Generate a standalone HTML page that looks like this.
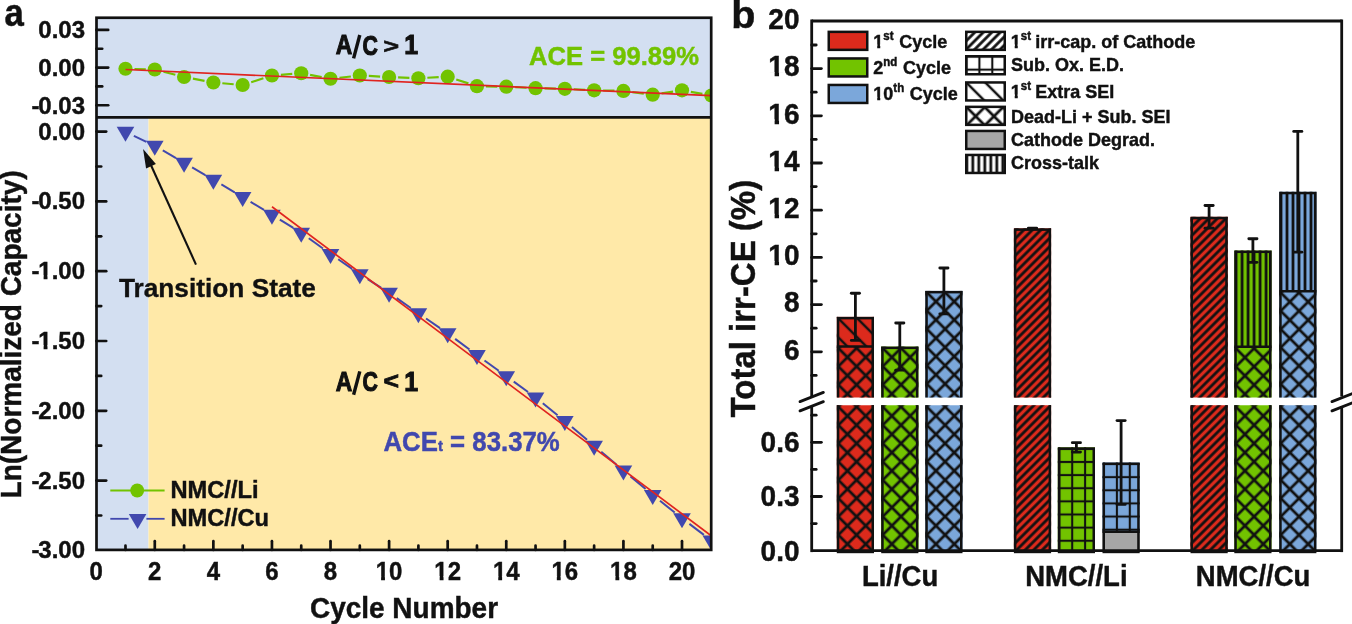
<!DOCTYPE html>
<html><head><meta charset="utf-8"><style>
html,body{margin:0;padding:0;background:#fff;}
svg{display:block;will-change:transform;}
text{font-family:"Liberation Sans",sans-serif;font-weight:bold;}
</style></head><body>
<svg width="1352" height="624" viewBox="0 0 1352 624">
<rect width="1352" height="624" fill="#fff"/><g fill="#111">
<defs><pattern id="pt1" patternUnits="userSpaceOnUse" width="12.940" height="12.940" patternTransform="translate(838.30,348.11) rotate(45)"><rect x="-1" y="-1.40" width="14.940" height="2.8" fill="#111"/><rect x="-1" y="11.540" width="14.940" height="2.8" fill="#111"/><rect y="-1" x="-1.40" height="14.940" width="2.8" fill="#111"/><rect y="-1" x="11.540" height="14.940" width="2.8" fill="#111"/></pattern><pattern id="pt2" patternUnits="userSpaceOnUse" width="13.435" height="13.435" patternTransform="translate(838.30,318.37) rotate(45)"><rect x="-1" y="-1.25" width="15.435" height="2.5" fill="#111"/><rect x="-1" y="12.185" width="15.435" height="2.5" fill="#111"/></pattern><pattern id="pt3" patternUnits="userSpaceOnUse" width="12.940" height="12.940" patternTransform="translate(838.30,406.80) rotate(45)"><rect x="-1" y="-1.40" width="14.940" height="2.8" fill="#111"/><rect x="-1" y="11.540" width="14.940" height="2.8" fill="#111"/><rect y="-1" x="-1.40" height="14.940" width="2.8" fill="#111"/><rect y="-1" x="11.540" height="14.940" width="2.8" fill="#111"/></pattern><pattern id="pt4" patternUnits="userSpaceOnUse" width="12.940" height="12.940" patternTransform="translate(882.70,348.11) rotate(45)"><rect x="-1" y="-1.40" width="14.940" height="2.8" fill="#111"/><rect x="-1" y="11.540" width="14.940" height="2.8" fill="#111"/><rect y="-1" x="-1.40" height="14.940" width="2.8" fill="#111"/><rect y="-1" x="11.540" height="14.940" width="2.8" fill="#111"/></pattern><pattern id="pt5" patternUnits="userSpaceOnUse" width="12.940" height="12.940" patternTransform="translate(882.70,406.80) rotate(45)"><rect x="-1" y="-1.40" width="14.940" height="2.8" fill="#111"/><rect x="-1" y="11.540" width="14.940" height="2.8" fill="#111"/><rect y="-1" x="-1.40" height="14.940" width="2.8" fill="#111"/><rect y="-1" x="11.540" height="14.940" width="2.8" fill="#111"/></pattern><pattern id="pt6" patternUnits="userSpaceOnUse" width="12.940" height="12.940" patternTransform="translate(926.80,292.41) rotate(45)"><rect x="-1" y="-1.40" width="14.940" height="2.8" fill="#111"/><rect x="-1" y="11.540" width="14.940" height="2.8" fill="#111"/><rect y="-1" x="-1.40" height="14.940" width="2.8" fill="#111"/><rect y="-1" x="11.540" height="14.940" width="2.8" fill="#111"/></pattern><pattern id="pt7" patternUnits="userSpaceOnUse" width="12.940" height="12.940" patternTransform="translate(926.80,406.80) rotate(45)"><rect x="-1" y="-1.40" width="14.940" height="2.8" fill="#111"/><rect x="-1" y="11.540" width="14.940" height="2.8" fill="#111"/><rect y="-1" x="-1.40" height="14.940" width="2.8" fill="#111"/><rect y="-1" x="11.540" height="14.940" width="2.8" fill="#111"/></pattern><pattern id="pt8" patternUnits="userSpaceOnUse" width="6.010" height="6.010" patternTransform="translate(1015.40,229.87) rotate(-45)"><rect x="-1" y="-1.40" width="8.010" height="2.8" fill="#111"/><rect x="-1" y="4.610" width="8.010" height="2.8" fill="#111"/></pattern><pattern id="pt9" patternUnits="userSpaceOnUse" width="6.010" height="6.010" patternTransform="translate(1015.40,406.80) rotate(-45)"><rect x="-1" y="-1.40" width="8.010" height="2.8" fill="#111"/><rect x="-1" y="4.610" width="8.010" height="2.8" fill="#111"/></pattern><pattern id="pt10" patternUnits="userSpaceOnUse" width="12.9" height="13.13" patternTransform="translate(1059.30,448.84)"><rect x="-1" y="-1.05" width="14.9" height="2.1" fill="#111"/><rect x="-1" y="12.080" width="14.9" height="2.1" fill="#111"/><rect y="-1" x="-1.05" height="15.13" width="2.1" fill="#111"/><rect y="-1" x="11.850" height="15.13" width="2.1" fill="#111"/></pattern><pattern id="pt11" patternUnits="userSpaceOnUse" width="12.9" height="13.13" patternTransform="translate(1104.00,464.02)"><rect x="-1" y="-1.05" width="14.9" height="2.1" fill="#111"/><rect x="-1" y="12.080" width="14.9" height="2.1" fill="#111"/><rect y="-1" x="-1.05" height="15.13" width="2.1" fill="#111"/><rect y="-1" x="11.850" height="15.13" width="2.1" fill="#111"/></pattern><pattern id="pt12" patternUnits="userSpaceOnUse" width="6.010" height="6.010" patternTransform="translate(1192.00,218.31) rotate(-45)"><rect x="-1" y="-1.40" width="8.010" height="2.8" fill="#111"/><rect x="-1" y="4.610" width="8.010" height="2.8" fill="#111"/></pattern><pattern id="pt13" patternUnits="userSpaceOnUse" width="6.010" height="6.010" patternTransform="translate(1192.00,406.80) rotate(-45)"><rect x="-1" y="-1.40" width="8.010" height="2.8" fill="#111"/><rect x="-1" y="4.610" width="8.010" height="2.8" fill="#111"/></pattern><pattern id="pt14" patternUnits="userSpaceOnUse" width="12.940" height="12.940" patternTransform="translate(1235.80,348.34) rotate(45)"><rect x="-1" y="-1.40" width="14.940" height="2.8" fill="#111"/><rect x="-1" y="11.540" width="14.940" height="2.8" fill="#111"/><rect y="-1" x="-1.40" height="14.940" width="2.8" fill="#111"/><rect y="-1" x="11.540" height="14.940" width="2.8" fill="#111"/></pattern><pattern id="pt15" patternUnits="userSpaceOnUse" width="6.0" height="20" patternTransform="translate(1236.10,252.06)"><rect x="-1.40" y="-1" width="2.8" height="22" fill="#111"/><rect x="4.60" y="-1" width="2.8" height="22" fill="#111"/></pattern><pattern id="pt16" patternUnits="userSpaceOnUse" width="12.940" height="12.940" patternTransform="translate(1235.80,406.80) rotate(45)"><rect x="-1" y="-1.40" width="14.940" height="2.8" fill="#111"/><rect x="-1" y="11.540" width="14.940" height="2.8" fill="#111"/><rect y="-1" x="-1.40" height="14.940" width="2.8" fill="#111"/><rect y="-1" x="11.540" height="14.940" width="2.8" fill="#111"/></pattern><pattern id="pt17" patternUnits="userSpaceOnUse" width="12.940" height="12.940" patternTransform="translate(1280.70,292.65) rotate(45)"><rect x="-1" y="-1.40" width="14.940" height="2.8" fill="#111"/><rect x="-1" y="11.540" width="14.940" height="2.8" fill="#111"/><rect y="-1" x="-1.40" height="14.940" width="2.8" fill="#111"/><rect y="-1" x="11.540" height="14.940" width="2.8" fill="#111"/></pattern><pattern id="pt18" patternUnits="userSpaceOnUse" width="6.0" height="20" patternTransform="translate(1281.00,193.29)"><rect x="-1.40" y="-1" width="2.8" height="22" fill="#111"/><rect x="4.60" y="-1" width="2.8" height="22" fill="#111"/></pattern><pattern id="pt19" patternUnits="userSpaceOnUse" width="12.940" height="12.940" patternTransform="translate(1280.70,406.80) rotate(45)"><rect x="-1" y="-1.40" width="14.940" height="2.8" fill="#111"/><rect x="-1" y="11.540" width="14.940" height="2.8" fill="#111"/><rect y="-1" x="-1.40" height="14.940" width="2.8" fill="#111"/><rect y="-1" x="11.540" height="14.940" width="2.8" fill="#111"/></pattern><pattern id="pt20" patternUnits="userSpaceOnUse" width="6.010" height="6.010" patternTransform="translate(966.50,32.10) rotate(-45)"><rect x="-1" y="-1.40" width="8.010" height="2.8" fill="#111"/><rect x="-1" y="4.610" width="8.010" height="2.8" fill="#111"/></pattern><pattern id="pt21" patternUnits="userSpaceOnUse" width="12.9" height="13.13" patternTransform="translate(966.50,56.50)"><rect x="-1" y="-1.05" width="14.9" height="2.1" fill="#111"/><rect x="-1" y="12.080" width="14.9" height="2.1" fill="#111"/><rect y="-1" x="-1.05" height="15.13" width="2.1" fill="#111"/><rect y="-1" x="11.850" height="15.13" width="2.1" fill="#111"/></pattern><pattern id="pt22" patternUnits="userSpaceOnUse" width="13.435" height="13.435" patternTransform="translate(966.50,82.70) rotate(45)"><rect x="-1" y="-1.25" width="15.435" height="2.5" fill="#111"/><rect x="-1" y="12.185" width="15.435" height="2.5" fill="#111"/></pattern><pattern id="pt23" patternUnits="userSpaceOnUse" width="12.940" height="12.940" patternTransform="translate(966.50,107.10) rotate(45)"><rect x="-1" y="-1.40" width="14.940" height="2.8" fill="#111"/><rect x="-1" y="11.540" width="14.940" height="2.8" fill="#111"/><rect y="-1" x="-1.40" height="14.940" width="2.8" fill="#111"/><rect y="-1" x="11.540" height="14.940" width="2.8" fill="#111"/></pattern><pattern id="pt24" patternUnits="userSpaceOnUse" width="6.0" height="20" patternTransform="translate(966.80,155.20)"><rect x="-1.40" y="-1" width="2.8" height="22" fill="#111"/><rect x="4.60" y="-1" width="2.8" height="22" fill="#111"/></pattern></defs>
<rect x="96.5" y="17.75" width="614.7" height="99.65" fill="#D3DFF1"/>
<rect x="96.5" y="117.4" width="52.0" height="432.5" fill="#D3DFF1"/>
<rect x="148.5" y="117.4" width="562.7" height="432.5" fill="#FFE9A8"/>
<defs><clipPath id="cpa"><rect x="96.5" y="17.75" width="614.7" height="532.15"/></clipPath></defs>
<g clip-path="url(#cpa)">
<line x1="134.49" y1="68.98" x2="145.78" y2="69.27" stroke="#72C300" stroke-width="2.2"/>
<line x1="163.50" y1="71.73" x2="175.35" y2="74.77" stroke="#72C300" stroke-width="2.2"/>
<line x1="192.92" y1="78.66" x2="204.51" y2="80.84" stroke="#72C300" stroke-width="2.2"/>
<line x1="222.33" y1="83.27" x2="233.68" y2="84.23" stroke="#72C300" stroke-width="2.2"/>
<line x1="251.21" y1="82.22" x2="263.38" y2="78.28" stroke="#72C300" stroke-width="2.2"/>
<line x1="280.91" y1="74.81" x2="292.26" y2="73.94" stroke="#72C300" stroke-width="2.2"/>
<line x1="310.08" y1="74.91" x2="321.67" y2="77.09" stroke="#72C300" stroke-width="2.2"/>
<line x1="339.47" y1="77.76" x2="350.86" y2="76.49" stroke="#72C300" stroke-width="2.2"/>
<line x1="368.80" y1="75.96" x2="380.11" y2="76.54" stroke="#72C300" stroke-width="2.2"/>
<line x1="398.09" y1="77.38" x2="409.40" y2="77.87" stroke="#72C300" stroke-width="2.2"/>
<line x1="427.38" y1="77.77" x2="438.69" y2="77.18" stroke="#72C300" stroke-width="2.2"/>
<line x1="456.24" y1="79.48" x2="468.41" y2="83.42" stroke="#72C300" stroke-width="2.2"/>
<line x1="485.97" y1="86.35" x2="497.26" y2="86.55" stroke="#72C300" stroke-width="2.2"/>
<line x1="515.25" y1="87.16" x2="526.56" y2="87.74" stroke="#72C300" stroke-width="2.2"/>
<line x1="544.55" y1="88.38" x2="555.84" y2="88.62" stroke="#72C300" stroke-width="2.2"/>
<line x1="573.83" y1="89.26" x2="585.14" y2="89.84" stroke="#72C300" stroke-width="2.2"/>
<line x1="603.13" y1="90.48" x2="614.42" y2="90.72" stroke="#72C300" stroke-width="2.2"/>
<line x1="632.35" y1="92.06" x2="643.78" y2="93.54" stroke="#72C300" stroke-width="2.2"/>
<line x1="661.61" y1="93.36" x2="673.10" y2="91.64" stroke="#72C300" stroke-width="2.2"/>
<line x1="690.86" y1="91.87" x2="702.43" y2="93.93" stroke="#72C300" stroke-width="2.2"/>
<circle cx="125.49" cy="68.75" r="7.1" fill="#72C300"/>
<circle cx="154.78" cy="69.50" r="7.1" fill="#72C300"/>
<circle cx="184.07" cy="77.00" r="7.1" fill="#72C300"/>
<circle cx="213.36" cy="82.50" r="7.1" fill="#72C300"/>
<circle cx="242.65" cy="85.00" r="7.1" fill="#72C300"/>
<circle cx="271.94" cy="75.50" r="7.1" fill="#72C300"/>
<circle cx="301.23" cy="73.25" r="7.1" fill="#72C300"/>
<circle cx="330.52" cy="78.75" r="7.1" fill="#72C300"/>
<circle cx="359.81" cy="75.50" r="7.1" fill="#72C300"/>
<circle cx="389.10" cy="77.00" r="7.1" fill="#72C300"/>
<circle cx="418.39" cy="78.25" r="7.1" fill="#72C300"/>
<circle cx="447.68" cy="76.70" r="7.1" fill="#72C300"/>
<circle cx="476.97" cy="86.20" r="7.1" fill="#72C300"/>
<circle cx="506.26" cy="86.70" r="7.1" fill="#72C300"/>
<circle cx="535.55" cy="88.20" r="7.1" fill="#72C300"/>
<circle cx="564.84" cy="88.80" r="7.1" fill="#72C300"/>
<circle cx="594.13" cy="90.30" r="7.1" fill="#72C300"/>
<circle cx="623.42" cy="90.90" r="7.1" fill="#72C300"/>
<circle cx="652.71" cy="94.70" r="7.1" fill="#72C300"/>
<circle cx="682.00" cy="90.30" r="7.1" fill="#72C300"/>
<circle cx="711.29" cy="95.50" r="7.1" fill="#72C300"/>
<line x1="125.5" y1="69.5" x2="711.2" y2="95.6" stroke="#E02420" stroke-width="1.7"/>
<line x1="133.88" y1="135.81" x2="146.39" y2="141.79" stroke="#4148AE" stroke-width="2"/>
<line x1="162.82" y1="150.47" x2="176.03" y2="158.13" stroke="#4148AE" stroke-width="2"/>
<line x1="192.12" y1="167.46" x2="205.31" y2="175.09" stroke="#4148AE" stroke-width="2"/>
<line x1="221.37" y1="184.47" x2="234.64" y2="192.28" stroke="#4148AE" stroke-width="2"/>
<line x1="250.60" y1="201.82" x2="263.99" y2="209.93" stroke="#4148AE" stroke-width="2"/>
<line x1="279.86" y1="219.62" x2="293.31" y2="227.88" stroke="#4148AE" stroke-width="2"/>
<line x1="308.76" y1="238.21" x2="322.99" y2="248.54" stroke="#4148AE" stroke-width="2"/>
<line x1="338.18" y1="259.28" x2="352.15" y2="268.92" stroke="#4148AE" stroke-width="2"/>
<line x1="367.66" y1="279.19" x2="381.25" y2="287.81" stroke="#4148AE" stroke-width="2"/>
<line x1="396.72" y1="298.13" x2="410.77" y2="307.97" stroke="#4148AE" stroke-width="2"/>
<line x1="426.07" y1="318.54" x2="440.00" y2="328.06" stroke="#4148AE" stroke-width="2"/>
<line x1="455.15" y1="338.84" x2="469.50" y2="349.46" stroke="#4148AE" stroke-width="2"/>
<line x1="484.50" y1="360.45" x2="498.73" y2="370.75" stroke="#4148AE" stroke-width="2"/>
<line x1="513.78" y1="381.67" x2="528.03" y2="392.03" stroke="#4148AE" stroke-width="2"/>
<line x1="542.80" y1="403.32" x2="557.59" y2="415.18" stroke="#4148AE" stroke-width="2"/>
<line x1="571.95" y1="427.00" x2="587.02" y2="439.70" stroke="#4148AE" stroke-width="2"/>
<line x1="601.24" y1="451.70" x2="616.31" y2="464.40" stroke="#4148AE" stroke-width="2"/>
<line x1="630.54" y1="476.38" x2="645.59" y2="489.02" stroke="#4148AE" stroke-width="2"/>
<line x1="659.99" y1="500.79" x2="674.72" y2="512.51" stroke="#4148AE" stroke-width="2"/>
<line x1="689.41" y1="523.92" x2="703.88" y2="534.88" stroke="#4148AE" stroke-width="2"/>
<path d="M116.69,126.80L134.29,126.80L125.49,141.80Z" fill="#4148AE"/>
<path d="M145.98,140.80L163.58,140.80L154.78,155.80Z" fill="#4148AE"/>
<path d="M175.27,157.80L192.87,157.80L184.07,172.80Z" fill="#4148AE"/>
<path d="M204.56,174.75L222.16,174.75L213.36,189.75Z" fill="#4148AE"/>
<path d="M233.85,192.00L251.45,192.00L242.65,207.00Z" fill="#4148AE"/>
<path d="M263.14,209.75L280.74,209.75L271.94,224.75Z" fill="#4148AE"/>
<path d="M292.43,227.75L310.03,227.75L301.23,242.75Z" fill="#4148AE"/>
<path d="M321.72,249.00L339.32,249.00L330.52,264.00Z" fill="#4148AE"/>
<path d="M351.01,269.20L368.61,269.20L359.81,284.20Z" fill="#4148AE"/>
<path d="M380.30,287.80L397.90,287.80L389.10,302.80Z" fill="#4148AE"/>
<path d="M409.59,308.30L427.19,308.30L418.39,323.30Z" fill="#4148AE"/>
<path d="M438.88,328.30L456.48,328.30L447.68,343.30Z" fill="#4148AE"/>
<path d="M468.17,350.00L485.77,350.00L476.97,365.00Z" fill="#4148AE"/>
<path d="M497.46,371.20L515.06,371.20L506.26,386.20Z" fill="#4148AE"/>
<path d="M526.75,392.50L544.35,392.50L535.55,407.50Z" fill="#4148AE"/>
<path d="M556.04,416.00L573.64,416.00L564.84,431.00Z" fill="#4148AE"/>
<path d="M585.33,440.70L602.93,440.70L594.13,455.70Z" fill="#4148AE"/>
<path d="M614.62,465.40L632.22,465.40L623.42,480.40Z" fill="#4148AE"/>
<path d="M643.91,490.00L661.51,490.00L652.71,505.00Z" fill="#4148AE"/>
<path d="M673.20,513.30L690.80,513.30L682.00,528.30Z" fill="#4148AE"/>
<path d="M702.49,535.50L720.09,535.50L711.29,550.50Z" fill="#4148AE"/>
<line x1="272" y1="206.75" x2="711.2" y2="535.7" stroke="#E02420" stroke-width="1.7"/>
</g>
<rect x="96.5" y="17.75" width="614.7" height="532.15" fill="none" stroke="#111" stroke-width="2.7"/>
<line x1="96.5" y1="117.4" x2="711.2" y2="117.4" stroke="#111" stroke-width="2.7"/>
<line x1="96.5" y1="29.95" x2="108.2" y2="29.95" stroke="#111" stroke-width="2.7" stroke-linecap="round"/>
<line x1="96.5" y1="48.77" x2="102.2" y2="48.77" stroke="#111" stroke-width="2.7" stroke-linecap="round"/>
<line x1="96.5" y1="67.60" x2="108.2" y2="67.60" stroke="#111" stroke-width="2.7" stroke-linecap="round"/>
<line x1="96.5" y1="86.42" x2="102.2" y2="86.42" stroke="#111" stroke-width="2.7" stroke-linecap="round"/>
<line x1="96.5" y1="105.25" x2="108.2" y2="105.25" stroke="#111" stroke-width="2.7" stroke-linecap="round"/>
<line x1="96.5" y1="131.60" x2="106.2" y2="131.60" stroke="#111" stroke-width="2.7" stroke-linecap="round"/>
<line x1="96.5" y1="166.50" x2="101.2" y2="166.50" stroke="#111" stroke-width="2.7" stroke-linecap="round"/>
<line x1="96.5" y1="201.40" x2="106.2" y2="201.40" stroke="#111" stroke-width="2.7" stroke-linecap="round"/>
<line x1="96.5" y1="236.30" x2="101.2" y2="236.30" stroke="#111" stroke-width="2.7" stroke-linecap="round"/>
<line x1="96.5" y1="271.20" x2="106.2" y2="271.20" stroke="#111" stroke-width="2.7" stroke-linecap="round"/>
<line x1="96.5" y1="306.10" x2="101.2" y2="306.10" stroke="#111" stroke-width="2.7" stroke-linecap="round"/>
<line x1="96.5" y1="341.00" x2="106.2" y2="341.00" stroke="#111" stroke-width="2.7" stroke-linecap="round"/>
<line x1="96.5" y1="375.90" x2="101.2" y2="375.90" stroke="#111" stroke-width="2.7" stroke-linecap="round"/>
<line x1="96.5" y1="410.80" x2="106.2" y2="410.80" stroke="#111" stroke-width="2.7" stroke-linecap="round"/>
<line x1="96.5" y1="445.70" x2="101.2" y2="445.70" stroke="#111" stroke-width="2.7" stroke-linecap="round"/>
<line x1="96.5" y1="480.60" x2="106.2" y2="480.60" stroke="#111" stroke-width="2.7" stroke-linecap="round"/>
<line x1="96.5" y1="515.50" x2="101.2" y2="515.50" stroke="#111" stroke-width="2.7" stroke-linecap="round"/>
<line x1="125.49" y1="549.9" x2="125.49" y2="545.6999999999999" stroke="#111" stroke-width="2.7" stroke-linecap="round"/>
<line x1="154.78" y1="549.9" x2="154.78" y2="541.1999999999999" stroke="#111" stroke-width="2.7" stroke-linecap="round"/>
<line x1="184.07" y1="549.9" x2="184.07" y2="545.6999999999999" stroke="#111" stroke-width="2.7" stroke-linecap="round"/>
<line x1="213.36" y1="549.9" x2="213.36" y2="541.1999999999999" stroke="#111" stroke-width="2.7" stroke-linecap="round"/>
<line x1="242.65" y1="549.9" x2="242.65" y2="545.6999999999999" stroke="#111" stroke-width="2.7" stroke-linecap="round"/>
<line x1="271.94" y1="549.9" x2="271.94" y2="541.1999999999999" stroke="#111" stroke-width="2.7" stroke-linecap="round"/>
<line x1="301.23" y1="549.9" x2="301.23" y2="545.6999999999999" stroke="#111" stroke-width="2.7" stroke-linecap="round"/>
<line x1="330.52" y1="549.9" x2="330.52" y2="541.1999999999999" stroke="#111" stroke-width="2.7" stroke-linecap="round"/>
<line x1="359.81" y1="549.9" x2="359.81" y2="545.6999999999999" stroke="#111" stroke-width="2.7" stroke-linecap="round"/>
<line x1="389.10" y1="549.9" x2="389.10" y2="541.1999999999999" stroke="#111" stroke-width="2.7" stroke-linecap="round"/>
<line x1="418.39" y1="549.9" x2="418.39" y2="545.6999999999999" stroke="#111" stroke-width="2.7" stroke-linecap="round"/>
<line x1="447.68" y1="549.9" x2="447.68" y2="541.1999999999999" stroke="#111" stroke-width="2.7" stroke-linecap="round"/>
<line x1="476.97" y1="549.9" x2="476.97" y2="545.6999999999999" stroke="#111" stroke-width="2.7" stroke-linecap="round"/>
<line x1="506.26" y1="549.9" x2="506.26" y2="541.1999999999999" stroke="#111" stroke-width="2.7" stroke-linecap="round"/>
<line x1="535.55" y1="549.9" x2="535.55" y2="545.6999999999999" stroke="#111" stroke-width="2.7" stroke-linecap="round"/>
<line x1="564.84" y1="549.9" x2="564.84" y2="541.1999999999999" stroke="#111" stroke-width="2.7" stroke-linecap="round"/>
<line x1="594.13" y1="549.9" x2="594.13" y2="545.6999999999999" stroke="#111" stroke-width="2.7" stroke-linecap="round"/>
<line x1="623.42" y1="549.9" x2="623.42" y2="541.1999999999999" stroke="#111" stroke-width="2.7" stroke-linecap="round"/>
<line x1="652.71" y1="549.9" x2="652.71" y2="545.6999999999999" stroke="#111" stroke-width="2.7" stroke-linecap="round"/>
<line x1="682.00" y1="549.9" x2="682.00" y2="541.1999999999999" stroke="#111" stroke-width="2.7" stroke-linecap="round"/>
<text transform="translate(85.00,38.35) scale(0.9901,1)" font-family="Liberation Sans, sans-serif" font-weight="bold" font-size="24.24" text-anchor="end" stroke="#111" stroke-width="0.45">0.03</text>
<text transform="translate(85.00,76.00) scale(0.9901,1)" font-family="Liberation Sans, sans-serif" font-weight="bold" font-size="24.24" text-anchor="end" stroke="#111" stroke-width="0.45">0.00</text>
<text class="fx1" transform="translate(85.00,113.65) scale(0.9901,1)" font-family="Liberation Sans, sans-serif" font-weight="bold" font-size="24.24" text-anchor="end" stroke="#111" stroke-width="0.45">-<tspan dx="-1.3">0.03</tspan></text>
<text transform="translate(85.00,139.50) scale(0.9901,1)" font-family="Liberation Sans, sans-serif" font-weight="bold" font-size="24.24" text-anchor="end" stroke="#111" stroke-width="0.45">0.00</text>
<text class="fx1" transform="translate(85.00,209.30) scale(0.9901,1)" font-family="Liberation Sans, sans-serif" font-weight="bold" font-size="24.24" text-anchor="end" stroke="#111" stroke-width="0.45">-<tspan dx="-1.3">0.50</tspan></text>
<text class="fx1" transform="translate(85.00,279.10) scale(0.9901,1)" font-family="Liberation Sans, sans-serif" font-weight="bold" font-size="24.24" text-anchor="end" stroke="#111" stroke-width="0.45">-<tspan dx="-1.3">1.00</tspan></text><g transform="translate(85.00,279.10) scale(0.9901,1)"><rect x="-46.94" y="-3.77" width="5.13" height="6.07" fill="#fff"/><rect x="-37.89" y="-3.77" width="4.82" height="6.07" fill="#fff"/></g>
<text class="fx1" transform="translate(85.00,348.90) scale(0.9901,1)" font-family="Liberation Sans, sans-serif" font-weight="bold" font-size="24.24" text-anchor="end" stroke="#111" stroke-width="0.45">-<tspan dx="-1.3">1.50</tspan></text><g transform="translate(85.00,348.90) scale(0.9901,1)"><rect x="-46.94" y="-3.77" width="5.13" height="6.07" fill="#fff"/><rect x="-37.89" y="-3.77" width="4.82" height="6.07" fill="#fff"/></g>
<text class="fx1" transform="translate(85.00,418.70) scale(0.9901,1)" font-family="Liberation Sans, sans-serif" font-weight="bold" font-size="24.24" text-anchor="end" stroke="#111" stroke-width="0.45">-<tspan dx="-1.3">2.00</tspan></text>
<text class="fx1" transform="translate(85.00,488.50) scale(0.9901,1)" font-family="Liberation Sans, sans-serif" font-weight="bold" font-size="24.24" text-anchor="end" stroke="#111" stroke-width="0.45">-<tspan dx="-1.3">2.50</tspan></text>
<text class="fx1" transform="translate(85.00,558.30) scale(0.9901,1)" font-family="Liberation Sans, sans-serif" font-weight="bold" font-size="24.24" text-anchor="end" stroke="#111" stroke-width="0.45">-<tspan dx="-1.3">3.00</tspan></text>
<text transform="translate(96.20,580.00) scale(0.9611,1)" font-family="Liberation Sans, sans-serif" font-weight="bold" font-size="24.97" text-anchor="middle" stroke="#111" stroke-width="0.45">0</text>
<text transform="translate(154.78,580.00) scale(0.9611,1)" font-family="Liberation Sans, sans-serif" font-weight="bold" font-size="24.97" text-anchor="middle" stroke="#111" stroke-width="0.45">2</text>
<text transform="translate(213.36,580.00) scale(0.9611,1)" font-family="Liberation Sans, sans-serif" font-weight="bold" font-size="24.97" text-anchor="middle" stroke="#111" stroke-width="0.45">4</text>
<text transform="translate(271.94,580.00) scale(0.9611,1)" font-family="Liberation Sans, sans-serif" font-weight="bold" font-size="24.97" text-anchor="middle" stroke="#111" stroke-width="0.45">6</text>
<text transform="translate(330.52,580.00) scale(0.9611,1)" font-family="Liberation Sans, sans-serif" font-weight="bold" font-size="24.97" text-anchor="middle" stroke="#111" stroke-width="0.45">8</text>
<text class="fx1" transform="translate(389.10,580.00) scale(0.9611,1)" font-family="Liberation Sans, sans-serif" font-weight="bold" font-size="24.97" text-anchor="middle" stroke="#111" stroke-width="0.45">10</text><g transform="translate(389.10,580.00) scale(0.9611,1)"><rect x="-13.60" y="-3.85" width="5.26" height="6.15" fill="#fff"/><rect x="-4.32" y="-3.85" width="4.94" height="6.15" fill="#fff"/></g>
<text class="fx1" transform="translate(447.68,580.00) scale(0.9611,1)" font-family="Liberation Sans, sans-serif" font-weight="bold" font-size="24.97" text-anchor="middle" stroke="#111" stroke-width="0.45">12</text><g transform="translate(447.68,580.00) scale(0.9611,1)"><rect x="-13.60" y="-3.85" width="5.26" height="6.15" fill="#fff"/><rect x="-4.32" y="-3.85" width="4.94" height="6.15" fill="#fff"/></g>
<text class="fx1" transform="translate(506.26,580.00) scale(0.9611,1)" font-family="Liberation Sans, sans-serif" font-weight="bold" font-size="24.97" text-anchor="middle" stroke="#111" stroke-width="0.45">14</text><g transform="translate(506.26,580.00) scale(0.9611,1)"><rect x="-13.60" y="-3.85" width="5.26" height="6.15" fill="#fff"/><rect x="-4.32" y="-3.85" width="4.94" height="6.15" fill="#fff"/></g>
<text class="fx1" transform="translate(564.84,580.00) scale(0.9611,1)" font-family="Liberation Sans, sans-serif" font-weight="bold" font-size="24.97" text-anchor="middle" stroke="#111" stroke-width="0.45">16</text><g transform="translate(564.84,580.00) scale(0.9611,1)"><rect x="-13.60" y="-3.85" width="5.26" height="6.15" fill="#fff"/><rect x="-4.32" y="-3.85" width="4.94" height="6.15" fill="#fff"/></g>
<text class="fx1" transform="translate(623.42,580.00) scale(0.9611,1)" font-family="Liberation Sans, sans-serif" font-weight="bold" font-size="24.97" text-anchor="middle" stroke="#111" stroke-width="0.45">18</text><g transform="translate(623.42,580.00) scale(0.9611,1)"><rect x="-13.60" y="-3.85" width="5.26" height="6.15" fill="#fff"/><rect x="-4.32" y="-3.85" width="4.94" height="6.15" fill="#fff"/></g>
<text transform="translate(682.00,580.00) scale(0.9611,1)" font-family="Liberation Sans, sans-serif" font-weight="bold" font-size="24.97" text-anchor="middle" stroke="#111" stroke-width="0.45">20</text>
<text transform="translate(404.00,618.30) scale(0.9611,1)" font-family="Liberation Sans, sans-serif" font-weight="bold" font-size="29.13" text-anchor="middle" stroke="#111" stroke-width="0.45">Cycle Number</text>
<text transform="translate(20.80,334.40) rotate(-90) scale(0.9611,1)" font-family="Liberation Sans, sans-serif" font-weight="bold" font-size="29.13" text-anchor="middle" stroke="#111" stroke-width="0.45">Ln(Normalized Capacity)</text>
<text x="4.4" y="26.4" font-family="Liberation Sans, sans-serif" font-weight="bold" font-size="39.5" stroke="#111" stroke-width="0.5" transform="translate(4.4,0) scale(0.88,1) translate(-4.4,0)">a</text>
<text transform="translate(335.83,54.40) scale(0.8434,1)" font-family="Liberation Sans, sans-serif" font-weight="bold" font-size="27.03" stroke="#111" stroke-width="1.07">A</text>
<line x1="353.6" y1="58.40" x2="359.8" y2="35.00" stroke="#111" stroke-width="3.4"/>
<text transform="translate(362.53,54.52) scale(0.7717,1)" font-family="Liberation Sans, sans-serif" font-weight="bold" font-size="27.54" stroke="#111" stroke-width="1.17">C</text>
<text transform="translate(383.49,52.58) scale(1.2663,1)" font-family="Liberation Sans, sans-serif" font-weight="bold" font-size="20.96" stroke="#111" stroke-width="0.71">&gt;</text>
<text transform="translate(404.23,54.40) scale(0.9227,1)" font-family="Liberation Sans, sans-serif" font-weight="bold" font-size="27.03" stroke="#111" stroke-width="0.98">1</text>
<text transform="translate(335.83,390.80) scale(0.8434,1)" font-family="Liberation Sans, sans-serif" font-weight="bold" font-size="27.03" stroke="#111" stroke-width="1.07">A</text>
<line x1="353.6" y1="394.80" x2="359.8" y2="371.40" stroke="#111" stroke-width="3.4"/>
<text transform="translate(362.53,390.92) scale(0.7717,1)" font-family="Liberation Sans, sans-serif" font-weight="bold" font-size="27.54" stroke="#111" stroke-width="1.17">C</text>
<text transform="translate(383.49,389.40) scale(1.1539,1)" font-family="Liberation Sans, sans-serif" font-weight="bold" font-size="23.01" stroke="#111" stroke-width="0.78">&lt;</text>
<text transform="translate(404.23,390.80) scale(0.9227,1)" font-family="Liberation Sans, sans-serif" font-weight="bold" font-size="27.03" stroke="#111" stroke-width="0.98">1</text>
<text transform="translate(529.00,64.90) scale(0.9611,1)" font-family="Liberation Sans, sans-serif" font-weight="bold" font-size="26.64" text-anchor="start" fill="#72C300" stroke="#72C300" stroke-width="0.45">ACE = 99.89%</text>
<text x="118.9" y="297.4" font-family="Liberation Sans, sans-serif" font-weight="bold" font-size="26.3" textLength="197" lengthAdjust="spacingAndGlyphs" stroke="#111" stroke-width="0.35">Transition State</text>
<text transform="translate(383.50,451.10) scale(0.9611,1)" font-family="Liberation Sans, sans-serif" font-weight="bold" font-size="26.84" text-anchor="start" fill="#4148AE" stroke="#4148AE" stroke-width="0.45">ACE<tspan font-size="15.5">t</tspan> = 83.37%</text>
<line x1="196" y1="264.6" x2="150" y2="163" stroke="#111" stroke-width="2.1"/>
<path d="M143.1,148.9L155.90,163.94L146.08,168.43Z" fill="#111"/>
<line x1="110.3" y1="490.5" x2="164.6" y2="490.5" stroke="#72C300" stroke-width="1.8"/>
<circle cx="137.2" cy="490.5" r="6.9" fill="#72C300"/>
<line x1="110.3" y1="518.8" x2="128.6" y2="518.8" stroke="#4148AE" stroke-width="1.8"/>
<line x1="146.4" y1="518.8" x2="164.6" y2="518.8" stroke="#4148AE" stroke-width="1.8"/>
<path d="M128.80,514.00L146.40,514.00L137.60,529.00Z" fill="#4148AE"/>
<text transform="translate(170.40,498.00) scale(0.9611,1)" font-family="Liberation Sans, sans-serif" font-weight="bold" font-size="24.66" text-anchor="start" stroke="#111" stroke-width="0.45">NMC//Li</text>
<text transform="translate(170.40,526.20) scale(0.9611,1)" font-family="Liberation Sans, sans-serif" font-weight="bold" font-size="24.66" text-anchor="start" stroke="#111" stroke-width="0.45">NMC//Cu</text>
<defs><clipPath id="cup"><rect x="0" y="0" width="1352" height="397.6"/></clipPath><clipPath id="clo"><rect x="0" y="405.3" width="1352" height="218.7"/></clipPath></defs>
<g clip-path="url(#cup)">
<rect x="836.8" y="346.61" width="37.2" height="70.99" fill="#DC2A1C"/>
<rect x="836.8" y="346.61" width="37.2" height="70.99" fill="url(#pt1)"/>
<rect x="836.8" y="316.87" width="37.2" height="29.74" fill="#DC2A1C"/>
<rect x="836.8" y="316.87" width="37.2" height="29.74" fill="url(#pt2)"/>
<line x1="836.8" y1="346.61" x2="874.0" y2="346.61" stroke="#111" stroke-width="2.5"/>
<rect x="838.05" y="318.12" width="34.7" height="100.73" fill="none" stroke="#111" stroke-width="2.5"/>
<line x1="855.40" y1="293.27" x2="855.40" y2="340.47" stroke="#111" stroke-width="2.8"/>
<line x1="851.30" y1="293.27" x2="859.50" y2="293.27" stroke="#111" stroke-width="2.8" stroke-linecap="round"/>
<line x1="851.30" y1="340.47" x2="859.50" y2="340.47" stroke="#111" stroke-width="2.8" stroke-linecap="round"/>
</g>
<g clip-path="url(#clo)">
<rect x="836.8" y="385.30" width="37.2" height="165.40" fill="#DC2A1C"/>
<rect x="836.8" y="385.30" width="37.2" height="165.40" fill="url(#pt3)"/>
<line x1="836.8" y1="385.30" x2="874.0" y2="385.30" stroke="#111" stroke-width="2.5"/>
<rect x="838.05" y="386.55" width="34.7" height="165.40" fill="none" stroke="#111" stroke-width="2.5"/>
<line x1="855.40" y1="385.30" x2="855.40" y2="385.30" stroke="#111" stroke-width="2.8"/>
<line x1="851.30" y1="385.30" x2="859.50" y2="385.30" stroke="#111" stroke-width="2.8" stroke-linecap="round"/>
<line x1="851.30" y1="385.30" x2="859.50" y2="385.30" stroke="#111" stroke-width="2.8" stroke-linecap="round"/>
</g>
<g clip-path="url(#cup)">
<rect x="881.2" y="346.61" width="37.2" height="70.99" fill="#72C300"/>
<rect x="881.2" y="346.61" width="37.2" height="70.99" fill="url(#pt4)"/>
<rect x="882.45" y="347.86" width="34.7" height="70.99" fill="none" stroke="#111" stroke-width="2.5"/>
<line x1="899.80" y1="323.01" x2="899.80" y2="370.21" stroke="#111" stroke-width="2.8"/>
<line x1="895.70" y1="323.01" x2="903.90" y2="323.01" stroke="#111" stroke-width="2.8" stroke-linecap="round"/>
<line x1="895.70" y1="370.21" x2="903.90" y2="370.21" stroke="#111" stroke-width="2.8" stroke-linecap="round"/>
</g>
<g clip-path="url(#clo)">
<rect x="881.2" y="385.30" width="37.2" height="165.40" fill="#72C300"/>
<rect x="881.2" y="385.30" width="37.2" height="165.40" fill="url(#pt5)"/>
<rect x="882.45" y="386.55" width="34.7" height="165.40" fill="none" stroke="#111" stroke-width="2.5"/>
<line x1="899.80" y1="385.30" x2="899.80" y2="385.30" stroke="#111" stroke-width="2.8"/>
<line x1="895.70" y1="385.30" x2="903.90" y2="385.30" stroke="#111" stroke-width="2.8" stroke-linecap="round"/>
<line x1="895.70" y1="385.30" x2="903.90" y2="385.30" stroke="#111" stroke-width="2.8" stroke-linecap="round"/>
</g>
<g clip-path="url(#cup)">
<rect x="925.3" y="290.91" width="37.2" height="126.69" fill="#7BA7DA"/>
<rect x="925.3" y="290.91" width="37.2" height="126.69" fill="url(#pt6)"/>
<rect x="926.55" y="292.16" width="34.7" height="126.69" fill="none" stroke="#111" stroke-width="2.5"/>
<line x1="943.90" y1="268.02" x2="943.90" y2="313.80" stroke="#111" stroke-width="2.8"/>
<line x1="939.80" y1="268.02" x2="948.00" y2="268.02" stroke="#111" stroke-width="2.8" stroke-linecap="round"/>
<line x1="939.80" y1="313.80" x2="948.00" y2="313.80" stroke="#111" stroke-width="2.8" stroke-linecap="round"/>
</g>
<g clip-path="url(#clo)">
<rect x="925.3" y="385.30" width="37.2" height="165.40" fill="#7BA7DA"/>
<rect x="925.3" y="385.30" width="37.2" height="165.40" fill="url(#pt7)"/>
<rect x="926.55" y="386.55" width="34.7" height="165.40" fill="none" stroke="#111" stroke-width="2.5"/>
<line x1="943.90" y1="385.30" x2="943.90" y2="385.30" stroke="#111" stroke-width="2.8"/>
<line x1="939.80" y1="385.30" x2="948.00" y2="385.30" stroke="#111" stroke-width="2.8" stroke-linecap="round"/>
<line x1="939.80" y1="385.30" x2="948.00" y2="385.30" stroke="#111" stroke-width="2.8" stroke-linecap="round"/>
</g>
<g clip-path="url(#cup)">
<rect x="1013.9" y="228.37" width="37.2" height="189.23" fill="#DC2A1C"/>
<rect x="1013.9" y="228.37" width="37.2" height="189.23" fill="url(#pt8)"/>
<rect x="1015.15" y="229.62" width="34.7" height="189.23" fill="none" stroke="#111" stroke-width="2.5"/>
<line x1="1032.50" y1="228.09" x2="1032.50" y2="228.66" stroke="#111" stroke-width="2.8"/>
<line x1="1028.40" y1="228.09" x2="1036.60" y2="228.09" stroke="#111" stroke-width="2.8" stroke-linecap="round"/>
<line x1="1028.40" y1="228.66" x2="1036.60" y2="228.66" stroke="#111" stroke-width="2.8" stroke-linecap="round"/>
</g>
<g clip-path="url(#clo)">
<rect x="1013.9" y="385.30" width="37.2" height="165.40" fill="#DC2A1C"/>
<rect x="1013.9" y="385.30" width="37.2" height="165.40" fill="url(#pt9)"/>
<rect x="1015.15" y="386.55" width="34.7" height="165.40" fill="none" stroke="#111" stroke-width="2.5"/>
<line x1="1032.50" y1="385.30" x2="1032.50" y2="385.30" stroke="#111" stroke-width="2.8"/>
<line x1="1028.40" y1="385.30" x2="1036.60" y2="385.30" stroke="#111" stroke-width="2.8" stroke-linecap="round"/>
<line x1="1028.40" y1="385.30" x2="1036.60" y2="385.30" stroke="#111" stroke-width="2.8" stroke-linecap="round"/>
</g>
<g clip-path="url(#clo)">
<rect x="1057.8" y="447.34" width="37.2" height="103.36" fill="#72C300"/>
<rect x="1057.8" y="447.34" width="37.2" height="103.36" fill="url(#pt10)"/>
<rect x="1059.05" y="448.59" width="34.7" height="103.36" fill="none" stroke="#111" stroke-width="2.5"/>
<line x1="1076.40" y1="442.64" x2="1076.40" y2="452.04" stroke="#111" stroke-width="2.8"/>
<line x1="1072.30" y1="442.64" x2="1080.50" y2="442.64" stroke="#111" stroke-width="2.8" stroke-linecap="round"/>
<line x1="1072.30" y1="452.04" x2="1080.50" y2="452.04" stroke="#111" stroke-width="2.8" stroke-linecap="round"/>
</g>
<g clip-path="url(#clo)">
<rect x="1102.5" y="531.73" width="37.2" height="18.97" fill="#A6A6A6"/>
<rect x="1102.5" y="462.52" width="37.2" height="69.21" fill="#7BA7DA"/>
<rect x="1102.5" y="462.52" width="37.2" height="69.21" fill="url(#pt11)"/>
<line x1="1102.5" y1="531.73" x2="1139.7" y2="531.73" stroke="#111" stroke-width="2.5"/>
<rect x="1103.75" y="463.77" width="34.7" height="88.18" fill="none" stroke="#111" stroke-width="2.5"/>
<line x1="1121.10" y1="420.60" x2="1121.10" y2="504.44" stroke="#111" stroke-width="2.8"/>
<line x1="1117.00" y1="420.60" x2="1125.20" y2="420.60" stroke="#111" stroke-width="2.8" stroke-linecap="round"/>
<line x1="1117.00" y1="504.44" x2="1125.20" y2="504.44" stroke="#111" stroke-width="2.8" stroke-linecap="round"/>
</g>
<g clip-path="url(#cup)">
<rect x="1190.5" y="216.81" width="37.2" height="200.79" fill="#DC2A1C"/>
<rect x="1190.5" y="216.81" width="37.2" height="200.79" fill="url(#pt12)"/>
<rect x="1191.75" y="218.06" width="34.7" height="200.79" fill="none" stroke="#111" stroke-width="2.5"/>
<line x1="1209.10" y1="205.48" x2="1209.10" y2="228.14" stroke="#111" stroke-width="2.8"/>
<line x1="1205.00" y1="205.48" x2="1213.20" y2="205.48" stroke="#111" stroke-width="2.8" stroke-linecap="round"/>
<line x1="1205.00" y1="228.14" x2="1213.20" y2="228.14" stroke="#111" stroke-width="2.8" stroke-linecap="round"/>
</g>
<g clip-path="url(#clo)">
<rect x="1190.5" y="385.30" width="37.2" height="165.40" fill="#DC2A1C"/>
<rect x="1190.5" y="385.30" width="37.2" height="165.40" fill="url(#pt13)"/>
<rect x="1191.75" y="386.55" width="34.7" height="165.40" fill="none" stroke="#111" stroke-width="2.5"/>
<line x1="1209.10" y1="385.30" x2="1209.10" y2="385.30" stroke="#111" stroke-width="2.8"/>
<line x1="1205.00" y1="385.30" x2="1213.20" y2="385.30" stroke="#111" stroke-width="2.8" stroke-linecap="round"/>
<line x1="1205.00" y1="385.30" x2="1213.20" y2="385.30" stroke="#111" stroke-width="2.8" stroke-linecap="round"/>
</g>
<g clip-path="url(#cup)">
<rect x="1234.3" y="346.84" width="37.2" height="70.76" fill="#72C300"/>
<rect x="1234.3" y="346.84" width="37.2" height="70.76" fill="url(#pt14)"/>
<rect x="1234.3" y="250.56" width="37.2" height="96.29" fill="#72C300"/>
<rect x="1234.3" y="250.56" width="37.2" height="96.29" fill="url(#pt15)"/>
<line x1="1234.3" y1="346.84" x2="1271.5" y2="346.84" stroke="#111" stroke-width="2.5"/>
<rect x="1235.55" y="251.81" width="34.7" height="167.04" fill="none" stroke="#111" stroke-width="2.5"/>
<line x1="1252.90" y1="238.76" x2="1252.90" y2="262.36" stroke="#111" stroke-width="2.8"/>
<line x1="1248.80" y1="238.76" x2="1257.00" y2="238.76" stroke="#111" stroke-width="2.8" stroke-linecap="round"/>
<line x1="1248.80" y1="262.36" x2="1257.00" y2="262.36" stroke="#111" stroke-width="2.8" stroke-linecap="round"/>
</g>
<g clip-path="url(#clo)">
<rect x="1234.3" y="385.30" width="37.2" height="165.40" fill="#72C300"/>
<rect x="1234.3" y="385.30" width="37.2" height="165.40" fill="url(#pt16)"/>
<line x1="1234.3" y1="385.30" x2="1271.5" y2="385.30" stroke="#111" stroke-width="2.5"/>
<rect x="1235.55" y="386.55" width="34.7" height="165.40" fill="none" stroke="#111" stroke-width="2.5"/>
<line x1="1252.90" y1="385.30" x2="1252.90" y2="385.30" stroke="#111" stroke-width="2.8"/>
<line x1="1248.80" y1="385.30" x2="1257.00" y2="385.30" stroke="#111" stroke-width="2.8" stroke-linecap="round"/>
<line x1="1248.80" y1="385.30" x2="1257.00" y2="385.30" stroke="#111" stroke-width="2.8" stroke-linecap="round"/>
</g>
<g clip-path="url(#cup)">
<rect x="1279.2" y="291.15" width="37.2" height="126.45" fill="#7BA7DA"/>
<rect x="1279.2" y="291.15" width="37.2" height="126.45" fill="url(#pt17)"/>
<rect x="1279.2" y="191.79" width="37.2" height="99.36" fill="#7BA7DA"/>
<rect x="1279.2" y="191.79" width="37.2" height="99.36" fill="url(#pt18)"/>
<line x1="1279.2" y1="291.15" x2="1316.4" y2="291.15" stroke="#111" stroke-width="2.5"/>
<rect x="1280.45" y="193.04" width="34.7" height="225.81" fill="none" stroke="#111" stroke-width="2.5"/>
<line x1="1297.80" y1="131.38" x2="1297.80" y2="252.21" stroke="#111" stroke-width="2.8"/>
<line x1="1293.70" y1="131.38" x2="1301.90" y2="131.38" stroke="#111" stroke-width="2.8" stroke-linecap="round"/>
<line x1="1293.70" y1="252.21" x2="1301.90" y2="252.21" stroke="#111" stroke-width="2.8" stroke-linecap="round"/>
</g>
<g clip-path="url(#clo)">
<rect x="1279.2" y="385.30" width="37.2" height="165.40" fill="#7BA7DA"/>
<rect x="1279.2" y="385.30" width="37.2" height="165.40" fill="url(#pt19)"/>
<line x1="1279.2" y1="385.30" x2="1316.4" y2="385.30" stroke="#111" stroke-width="2.5"/>
<rect x="1280.45" y="386.55" width="34.7" height="165.40" fill="none" stroke="#111" stroke-width="2.5"/>
<line x1="1297.80" y1="385.30" x2="1297.80" y2="385.30" stroke="#111" stroke-width="2.8"/>
<line x1="1293.70" y1="385.30" x2="1301.90" y2="385.30" stroke="#111" stroke-width="2.8" stroke-linecap="round"/>
<line x1="1293.70" y1="385.30" x2="1301.90" y2="385.30" stroke="#111" stroke-width="2.8" stroke-linecap="round"/>
</g>
<line x1="811.7" y1="21.0" x2="1341.7" y2="21.0" stroke="#111" stroke-width="2.8"/>
<line x1="811.7" y1="550.7" x2="1341.7" y2="550.7" stroke="#111" stroke-width="2.8"/>
<line x1="811.7" y1="19.6" x2="811.7" y2="396.5" stroke="#111" stroke-width="2.8"/>
<line x1="811.7" y1="406" x2="811.7" y2="552.1" stroke="#111" stroke-width="2.8"/>
<line x1="800.00" y1="401.65" x2="823.40" y2="392.4" stroke="#111" stroke-width="2.8" stroke-linecap="round"/>
<line x1="800.00" y1="410.9" x2="823.40" y2="401.65" stroke="#111" stroke-width="2.8" stroke-linecap="round"/>
<line x1="1341.7" y1="19.6" x2="1341.7" y2="396.5" stroke="#111" stroke-width="2.8"/>
<line x1="1341.7" y1="406" x2="1341.7" y2="552.1" stroke="#111" stroke-width="2.8"/>
<line x1="1332.00" y1="401.65" x2="1355.40" y2="392.4" stroke="#111" stroke-width="2.8" stroke-linecap="round"/>
<line x1="1332.00" y1="410.9" x2="1355.40" y2="401.65" stroke="#111" stroke-width="2.8" stroke-linecap="round"/>
<line x1="811.7" y1="375.40" x2="816.2" y2="375.40" stroke="#111" stroke-width="2.8" stroke-linecap="round"/>
<line x1="811.7" y1="351.80" x2="821.4000000000001" y2="351.80" stroke="#111" stroke-width="2.8" stroke-linecap="round"/>
<line x1="811.7" y1="328.20" x2="816.2" y2="328.20" stroke="#111" stroke-width="2.8" stroke-linecap="round"/>
<line x1="811.7" y1="304.60" x2="821.4000000000001" y2="304.60" stroke="#111" stroke-width="2.8" stroke-linecap="round"/>
<line x1="811.7" y1="281.00" x2="816.2" y2="281.00" stroke="#111" stroke-width="2.8" stroke-linecap="round"/>
<line x1="811.7" y1="257.40" x2="821.4000000000001" y2="257.40" stroke="#111" stroke-width="2.8" stroke-linecap="round"/>
<line x1="811.7" y1="233.80" x2="816.2" y2="233.80" stroke="#111" stroke-width="2.8" stroke-linecap="round"/>
<line x1="811.7" y1="210.20" x2="821.4000000000001" y2="210.20" stroke="#111" stroke-width="2.8" stroke-linecap="round"/>
<line x1="811.7" y1="186.60" x2="816.2" y2="186.60" stroke="#111" stroke-width="2.8" stroke-linecap="round"/>
<line x1="811.7" y1="163.00" x2="821.4000000000001" y2="163.00" stroke="#111" stroke-width="2.8" stroke-linecap="round"/>
<line x1="811.7" y1="139.40" x2="816.2" y2="139.40" stroke="#111" stroke-width="2.8" stroke-linecap="round"/>
<line x1="811.7" y1="115.80" x2="821.4000000000001" y2="115.80" stroke="#111" stroke-width="2.8" stroke-linecap="round"/>
<line x1="811.7" y1="92.20" x2="816.2" y2="92.20" stroke="#111" stroke-width="2.8" stroke-linecap="round"/>
<line x1="811.7" y1="68.60" x2="821.4000000000001" y2="68.60" stroke="#111" stroke-width="2.8" stroke-linecap="round"/>
<line x1="811.7" y1="45.00" x2="816.2" y2="45.00" stroke="#111" stroke-width="2.8" stroke-linecap="round"/>
<line x1="811.7" y1="523.60" x2="816.2" y2="523.60" stroke="#111" stroke-width="2.8" stroke-linecap="round"/>
<line x1="811.7" y1="496.49" x2="821.4000000000001" y2="496.49" stroke="#111" stroke-width="2.8" stroke-linecap="round"/>
<line x1="811.7" y1="469.39" x2="816.2" y2="469.39" stroke="#111" stroke-width="2.8" stroke-linecap="round"/>
<line x1="811.7" y1="442.28" x2="821.4000000000001" y2="442.28" stroke="#111" stroke-width="2.8" stroke-linecap="round"/>
<line x1="811.7" y1="415.18" x2="816.2" y2="415.18" stroke="#111" stroke-width="2.8" stroke-linecap="round"/>
<text transform="translate(799.50,359.60) scale(0.9611,1)" font-family="Liberation Sans, sans-serif" font-weight="bold" font-size="29.13" text-anchor="end" stroke="#111" stroke-width="0.45">6</text>
<text transform="translate(799.50,312.40) scale(0.9611,1)" font-family="Liberation Sans, sans-serif" font-weight="bold" font-size="29.13" text-anchor="end" stroke="#111" stroke-width="0.45">8</text>
<text class="fx1" transform="translate(799.50,265.20) scale(0.9611,1)" font-family="Liberation Sans, sans-serif" font-weight="bold" font-size="29.13" text-anchor="end" stroke="#111" stroke-width="0.45">10</text><g transform="translate(799.50,265.20) scale(0.9611,1)"><rect x="-31.85" y="-4.27" width="5.96" height="6.57" fill="#fff"/><rect x="-21.29" y="-4.27" width="5.59" height="6.57" fill="#fff"/></g>
<text class="fx1" transform="translate(799.50,218.00) scale(0.9611,1)" font-family="Liberation Sans, sans-serif" font-weight="bold" font-size="29.13" text-anchor="end" stroke="#111" stroke-width="0.45">12</text><g transform="translate(799.50,218.00) scale(0.9611,1)"><rect x="-31.85" y="-4.27" width="5.96" height="6.57" fill="#fff"/><rect x="-21.29" y="-4.27" width="5.59" height="6.57" fill="#fff"/></g>
<text class="fx1" transform="translate(799.50,170.80) scale(0.9611,1)" font-family="Liberation Sans, sans-serif" font-weight="bold" font-size="29.13" text-anchor="end" stroke="#111" stroke-width="0.45">14</text><g transform="translate(799.50,170.80) scale(0.9611,1)"><rect x="-31.85" y="-4.27" width="5.96" height="6.57" fill="#fff"/><rect x="-21.29" y="-4.27" width="5.59" height="6.57" fill="#fff"/></g>
<text class="fx1" transform="translate(799.50,123.60) scale(0.9611,1)" font-family="Liberation Sans, sans-serif" font-weight="bold" font-size="29.13" text-anchor="end" stroke="#111" stroke-width="0.45">16</text><g transform="translate(799.50,123.60) scale(0.9611,1)"><rect x="-31.85" y="-4.27" width="5.96" height="6.57" fill="#fff"/><rect x="-21.29" y="-4.27" width="5.59" height="6.57" fill="#fff"/></g>
<text class="fx1" transform="translate(799.50,76.40) scale(0.9611,1)" font-family="Liberation Sans, sans-serif" font-weight="bold" font-size="29.13" text-anchor="end" stroke="#111" stroke-width="0.45">18</text><g transform="translate(799.50,76.40) scale(0.9611,1)"><rect x="-31.85" y="-4.27" width="5.96" height="6.57" fill="#fff"/><rect x="-21.29" y="-4.27" width="5.59" height="6.57" fill="#fff"/></g>
<text transform="translate(799.50,29.20) scale(0.9611,1)" font-family="Liberation Sans, sans-serif" font-weight="bold" font-size="29.13" text-anchor="end" stroke="#111" stroke-width="0.45">20</text>
<text transform="translate(799.50,560.50) scale(0.9611,1)" font-family="Liberation Sans, sans-serif" font-weight="bold" font-size="29.13" text-anchor="end" stroke="#111" stroke-width="0.45">0.0</text>
<text transform="translate(799.50,506.29) scale(0.9611,1)" font-family="Liberation Sans, sans-serif" font-weight="bold" font-size="29.13" text-anchor="end" stroke="#111" stroke-width="0.45">0.3</text>
<text transform="translate(799.50,452.08) scale(0.9611,1)" font-family="Liberation Sans, sans-serif" font-weight="bold" font-size="29.13" text-anchor="end" stroke="#111" stroke-width="0.45">0.6</text>
<text transform="translate(900.10,586.20) scale(0.9611,1)" font-family="Liberation Sans, sans-serif" font-weight="bold" font-size="28.61" text-anchor="middle" stroke="#111" stroke-width="0.45">Li//Cu</text>
<text transform="translate(1076.40,586.20) scale(0.9611,1)" font-family="Liberation Sans, sans-serif" font-weight="bold" font-size="28.61" text-anchor="middle" stroke="#111" stroke-width="0.45">NMC//Li</text>
<text transform="translate(1253.10,586.20) scale(0.9611,1)" font-family="Liberation Sans, sans-serif" font-weight="bold" font-size="28.61" text-anchor="middle" stroke="#111" stroke-width="0.45">NMC//Cu</text>
<text transform="translate(755.10,298.65) rotate(-90) scale(0.9611,1)" font-family="Liberation Sans, sans-serif" font-weight="bold" font-size="34.34" text-anchor="middle" stroke="#111" stroke-width="0.45">Total irr-CE (%)</text>
<text x="731.3" y="27.9" font-family="Liberation Sans, sans-serif" font-weight="bold" font-size="39.5" stroke="#111" stroke-width="0.5">b</text>
<rect x="828.75" y="31.85" width="38.5" height="18.0" fill="#DC2A1C"/><rect x="828.75" y="31.85" width="38.5" height="18.0" fill="none" stroke="#111" stroke-width="2.5"/>
<text class="fx1" transform="translate(873.30,47.50) scale(0.9611,1)" font-family="Liberation Sans, sans-serif" font-weight="bold" font-size="18.73" text-anchor="start" stroke="#111" stroke-width="0.45">1<tspan font-size="11.97" dy="-7.6">st</tspan><tspan dy="7.6" dx="0.7"> Cycle</tspan></text><g transform="translate(873.30,47.50) scale(0.9611,1)"><rect x="-0.12" y="-3.21" width="4.19" height="5.51" fill="#fff"/><rect x="7.24" y="-3.21" width="3.95" height="5.51" fill="#fff"/></g>
<rect x="828.75" y="58.45" width="38.5" height="18.0" fill="#72C300"/><rect x="828.75" y="58.45" width="38.5" height="18.0" fill="none" stroke="#111" stroke-width="2.5"/>
<text class="fx1" transform="translate(873.30,73.75) scale(0.9611,1)" font-family="Liberation Sans, sans-serif" font-weight="bold" font-size="18.73" text-anchor="start" stroke="#111" stroke-width="0.45">2<tspan font-size="11.97" dy="-7.6">nd</tspan><tspan dy="7.6" dx="0.7"> Cycle</tspan></text>
<rect x="828.75" y="84.95" width="38.5" height="18.0" fill="#7BA7DA"/><rect x="828.75" y="84.95" width="38.5" height="18.0" fill="none" stroke="#111" stroke-width="2.5"/>
<text class="fx1" transform="translate(873.30,100.00) scale(0.9611,1)" font-family="Liberation Sans, sans-serif" font-weight="bold" font-size="18.73" text-anchor="start" stroke="#111" stroke-width="0.45">10<tspan font-size="11.97" dy="-7.6">th</tspan><tspan dy="7.6" dx="0.7"> Cycle</tspan></text><g transform="translate(873.30,100.00) scale(0.9611,1)"><rect x="-0.12" y="-3.21" width="4.19" height="5.51" fill="#fff"/><rect x="7.24" y="-3.21" width="3.95" height="5.51" fill="#fff"/></g>
<rect x="966.25" y="31.85" width="38.5" height="18.0" fill="#fff"/><rect x="966.25" y="31.85" width="38.5" height="18.0" fill="url(#pt20)"/><rect x="966.25" y="31.85" width="38.5" height="18.0" fill="none" stroke="#111" stroke-width="2.5"/>
<text class="fx1" transform="translate(1010.80,47.50) scale(0.9611,1)" font-family="Liberation Sans, sans-serif" font-weight="bold" font-size="18.73" text-anchor="start" stroke="#111" stroke-width="0.45">1<tspan font-size="11.97" dy="-7.6">st</tspan><tspan dy="7.6" dx="-0.7"> irr-cap. of Cathode</tspan></text><g transform="translate(1010.80,47.50) scale(0.9611,1)"><rect x="-0.12" y="-3.21" width="4.19" height="5.51" fill="#fff"/><rect x="7.24" y="-3.21" width="3.95" height="5.51" fill="#fff"/></g>
<rect x="966.25" y="56.25" width="38.5" height="18.0" fill="#fff"/><rect x="966.25" y="56.25" width="38.5" height="18.0" fill="url(#pt21)"/><rect x="966.25" y="56.25" width="38.5" height="18.0" fill="none" stroke="#111" stroke-width="2.5"/>
<text transform="translate(1011.00,71.30) scale(0.9611,1)" font-family="Liberation Sans, sans-serif" font-weight="bold" font-size="18.73" text-anchor="start" stroke="#111" stroke-width="0.45">Sub. Ox. E.D.</text>
<rect x="966.25" y="82.45" width="38.5" height="18.0" fill="#fff"/><rect x="966.25" y="82.45" width="38.5" height="18.0" fill="url(#pt22)"/><rect x="966.25" y="82.45" width="38.5" height="18.0" fill="none" stroke="#111" stroke-width="2.5"/>
<text class="fx1" transform="translate(1010.80,97.50) scale(0.9611,1)" font-family="Liberation Sans, sans-serif" font-weight="bold" font-size="18.73" text-anchor="start" stroke="#111" stroke-width="0.45">1<tspan font-size="11.97" dy="-7.6">st</tspan><tspan dy="7.6" dx="-0.7"> Extra SEI</tspan></text><g transform="translate(1010.80,97.50) scale(0.9611,1)"><rect x="-0.12" y="-3.21" width="4.19" height="5.51" fill="#fff"/><rect x="7.24" y="-3.21" width="3.95" height="5.51" fill="#fff"/></g>
<rect x="966.25" y="106.85" width="38.5" height="18.0" fill="#fff"/><rect x="966.25" y="106.85" width="38.5" height="18.0" fill="url(#pt23)"/><rect x="966.25" y="106.85" width="38.5" height="18.0" fill="none" stroke="#111" stroke-width="2.5"/>
<text transform="translate(1011.00,122.50) scale(0.9611,1)" font-family="Liberation Sans, sans-serif" font-weight="bold" font-size="18.73" text-anchor="start" stroke="#111" stroke-width="0.45">Dead-Li + Sub. SEI</text>
<rect x="966.25" y="130.95" width="38.5" height="18.0" fill="#A6A6A6"/><rect x="966.25" y="130.95" width="38.5" height="18.0" fill="none" stroke="#111" stroke-width="2.5"/>
<text transform="translate(1011.00,145.60) scale(0.9611,1)" font-family="Liberation Sans, sans-serif" font-weight="bold" font-size="18.73" text-anchor="start" stroke="#111" stroke-width="0.45">Cathode Degrad.</text>
<rect x="966.25" y="154.95" width="38.5" height="18.0" fill="#fff"/><rect x="966.25" y="154.95" width="38.5" height="18.0" fill="url(#pt24)"/><rect x="966.25" y="154.95" width="38.5" height="18.0" fill="none" stroke="#111" stroke-width="2.5"/>
<text transform="translate(1011.00,169.40) scale(0.9611,1)" font-family="Liberation Sans, sans-serif" font-weight="bold" font-size="18.73" text-anchor="start" stroke="#111" stroke-width="0.45">Cross-talk</text>
</g>
</svg></body></html>
